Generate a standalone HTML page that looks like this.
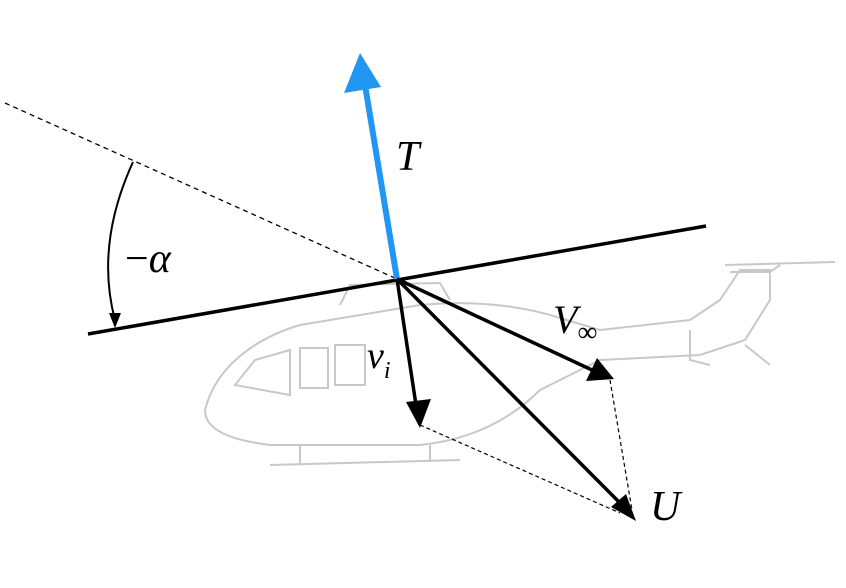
<!DOCTYPE html>
<html><head><meta charset="utf-8"><style>
html,body{margin:0;padding:0;background:#fff}
svg{display:block}
text{font-family:"Liberation Serif",serif;font-style:italic;fill:#000}
</style></head><body>
<svg width="846" height="588" viewBox="0 0 846 588">
<defs>
<marker id="ah" markerWidth="10" markerHeight="10" refX="9" refY="5" orient="auto" markerUnits="userSpaceOnUse" viewBox="0 0 10 10">
</marker>
</defs>
<g fill="none" stroke="#c8c8c8" stroke-width="2">
<path d="M205,410 C215,370 250,340 300,325 L420,305 C470,300 520,305 560,318 L600,330 L690,320 L720,300 L740,270 L770,270 L770,300 L745,340 L700,355 L600,360 L540,390 C510,420 470,440 420,445 L270,445 C230,440 205,430 205,410 Z"/>
<path d="M235,385 L255,360 L290,350 L290,395 Z"/>
<rect x="300" y="348" width="28" height="40"/>
<rect x="335" y="345" width="30" height="40"/>
<path d="M270,465 L460,460 M300,445 L300,465 M430,445 L430,462"/>
<path d="M340,305 L350,285 L440,283 L450,300"/>
<path d="M725,265 L835,262 M730,272 L770,272 L780,265"/>
<path d="M690,330 L690,360 L710,365 M745,345 L770,365"/>
</g>
<line x1="5" y1="103" x2="397" y2="279" stroke="#000" stroke-width="1.3" stroke-dasharray="5,4"/>
<line x1="88" y1="334" x2="706" y2="226" stroke="#000" stroke-width="3.5"/>
<path d="M133,162 Q95,245 115,320" fill="none" stroke="#000" stroke-width="2"/>
<polygon points="115,328 109,313 121,313" fill="#000"/>
<text x="125" y="272" font-size="42" style="font-style:normal">−<tspan style="font-style:italic">α</tspan></text>
<line x1="397" y1="279" x2="365" y2="85" stroke="#2196f3" stroke-width="6"/>
<polygon points="360,53 344,93 381,87" fill="#2196f3"/>
<text x="396" y="170" font-size="42">T</text>
<line x1="397" y1="279" x2="416" y2="405" stroke="#000" stroke-width="3.5"/>
<polygon points="420,428 406,402 431,399" fill="#000"/>
<text x="367" y="368" font-size="38">v<tspan font-size="24" dy="10">i</tspan></text>
<line x1="397" y1="279" x2="592" y2="370" stroke="#000" stroke-width="3.5"/>
<polygon points="614,379 586,381 597,358" fill="#000"/>
<text x="553" y="333" font-size="40">V<tspan font-size="28" dy="8" style="font-style:normal">∞</tspan></text>
<line x1="397" y1="279" x2="622" y2="505" stroke="#000" stroke-width="3.5"/>
<polygon points="636,521 611,507 626,494" fill="#000"/>
<text x="650" y="520" font-size="42">U</text>
<line x1="610" y1="380" x2="632" y2="510" stroke="#000" stroke-width="1.2" stroke-dasharray="4,3"/>
<line x1="420" y1="425" x2="620" y2="513" stroke="#000" stroke-width="1.2" stroke-dasharray="4,3"/>
</svg>
</body></html>
